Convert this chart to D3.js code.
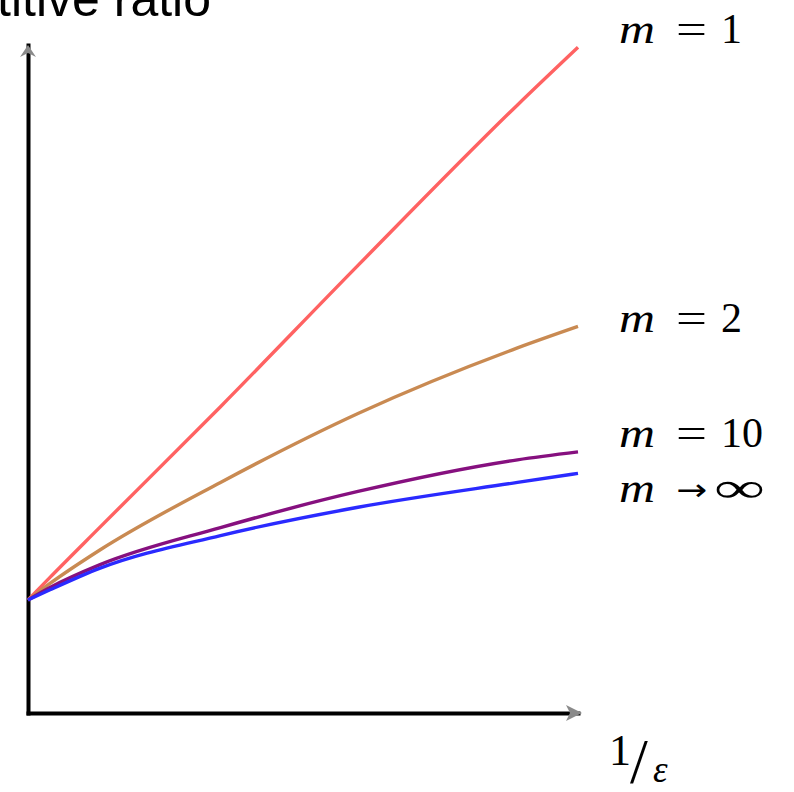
<!DOCTYPE html>
<html>
<head>
<meta charset="utf-8">
<script src="https://cdn.jsdelivr.net/npm/d3@7"></script>
<style>
  html, body { margin: 0; padding: 0; background: #fff; }
  svg { display: block; }
</style>
</head>
<body>
<svg id="chart" width="794" height="792"></svg>
<script>
// Horizontal positions (1/ε) shared by every curve
const invEps = [0, 0.4, 1.3, 3.5, 6.0, 8.9, 10];

// Competitive ratio for each number of machines m
const ratioM1   = [1.0, 1.20, 1.64, 2.71, 3.96, 5.38, 5.89];
const ratioM2   = [1.0, 1.146, 1.44, 2.04, 2.65, 3.23, 3.42];
const ratioM10  = [1.0, 1.11, 1.31, 1.64, 1.96, 2.24, 2.31];
const ratioMInf = [1.0, 1.09, 1.28, 1.57, 1.82, 2.04, 2.12];

const seriesNames  = ["m1", "m2", "m10", "mInf"];
const seriesValues = [ratioM1, ratioM2, ratioM10, ratioMInf];
const seriesColors = ["#ff6262", "#c98a52", "#86107f", "#2a2aff"];
const labelValues  = ["1", "2", "10", "∞"];
const labelOps     = ["=", "=", "=", "→"];

const svg = d3.select("#chart");

const x = d3.scaleLinear().domain([0, 10]).range([28, 578]);
const y = d3.scaleLinear().domain([0, 5.91]).range([713, 45]);

// Axes: bare lines with no ticks
const xAxis = svg.append("g")
  .attr("transform", `translate(0,${y(0)})`)
  .call(d3.axisBottom(x).ticks(0).tickSizeOuter(0));
const yAxis = svg.append("g")
  .attr("transform", `translate(${x(0)},0)`)
  .call(d3.axisLeft(y).ticks(0).tickSizeOuter(0));
[xAxis, yAxis].forEach(g => g.select(".domain")
  .attr("stroke", "#000")
  .attr("stroke-width", 4)
  .attr("stroke-linecap", "square"));

// Small arrowheads at the axis ends
const xEnd = x.range()[1], yEnd = y.range()[1];
svg.append("path")
  .attr("d", `M${xEnd + 4},${y(0)} L${xEnd - 12},${y(0) - 8} L${xEnd - 8},${y(0)} L${xEnd - 12},${y(0) + 8} Z`)
  .attr("fill", "#8a8a8a");
svg.append("path")
  .attr("d", `M${x(0)},${yEnd} L${x(0) - 8},${yEnd + 12} L${x(0)},${yEnd + 8} L${x(0) + 8},${yEnd + 12} Z`)
  .attr("fill", "#8a8a8a");

// Curves
const line = d3.line()
  .x((d, i) => x(invEps[i]))
  .y(d => y(d))
  .curve(d3.curveMonotoneX);

svg.append("g").selectAll("path")
  .data(seriesValues)
  .join("path")
  .attr("class", (d, i) => "curve " + seriesNames[i])
  .attr("d", line)
  .attr("fill", "none")
  .attr("stroke", (d, i) => seriesColors[i])
  .attr("stroke-width", 3.4)
  .attr("stroke-linejoin", "round");

// Labels at the right end of each curve
const labelBaselines = [43, 332, 447, 502];
const mathFont = "'Liberation Serif', 'DejaVu Serif', serif";
labelValues.forEach((v, i) => {
  const t = svg.append("text")
    .attr("y", labelBaselines[i])
    .attr("font-family", mathFont)
    .attr("font-size", 42)
    .attr("fill", "#000");
  t.append("tspan").attr("x", 619).attr("font-style", "italic")
    .attr("textLength", 36).attr("lengthAdjust", "spacingAndGlyphs").text("m");
  const op = t.append("tspan").attr("x", 676).text(labelOps[i])
    .attr("textLength", 31).attr("lengthAdjust", "spacingAndGlyphs");
  if (labelOps[i] === "→") op.attr("font-family", "'DejaVu Sans', sans-serif").attr("font-size", 30).attr("dy", -2);
  const vs = t.append("tspan").attr("x", labelOps[i] === "→" ? 714 : 721).text(v);
  if (labelOps[i] === "→") vs.attr("dy", 2);
  if (v === "∞") vs.attr("textLength", 51).attr("lengthAdjust", "spacingAndGlyphs");
});

// Axis title (partly outside the frame on the left)
svg.append("text")
  .attr("x", 211)
  .attr("y", 16)
  .attr("text-anchor", "end")
  .attr("font-family", "'Liberation Sans', Arial, sans-serif")
  .attr("font-size", 50)
  .attr("fill", "#000")
  .text("Competitive ratio");

// x-axis label: 1/ε as a bevelled fraction
const xl = svg.append("g").attr("font-family", mathFont).attr("fill", "#000");
xl.append("text").attr("x", 609).attr("y", 765).attr("font-size", 44).text("1");
xl.append("text").attr("x", 630).attr("y", 783).attr("font-size", 64).text("/");
xl.append("text").attr("x", 653).attr("y", 782).attr("font-size", 37).attr("font-style", "italic").text("ε");
</script>
</body>
</html>
